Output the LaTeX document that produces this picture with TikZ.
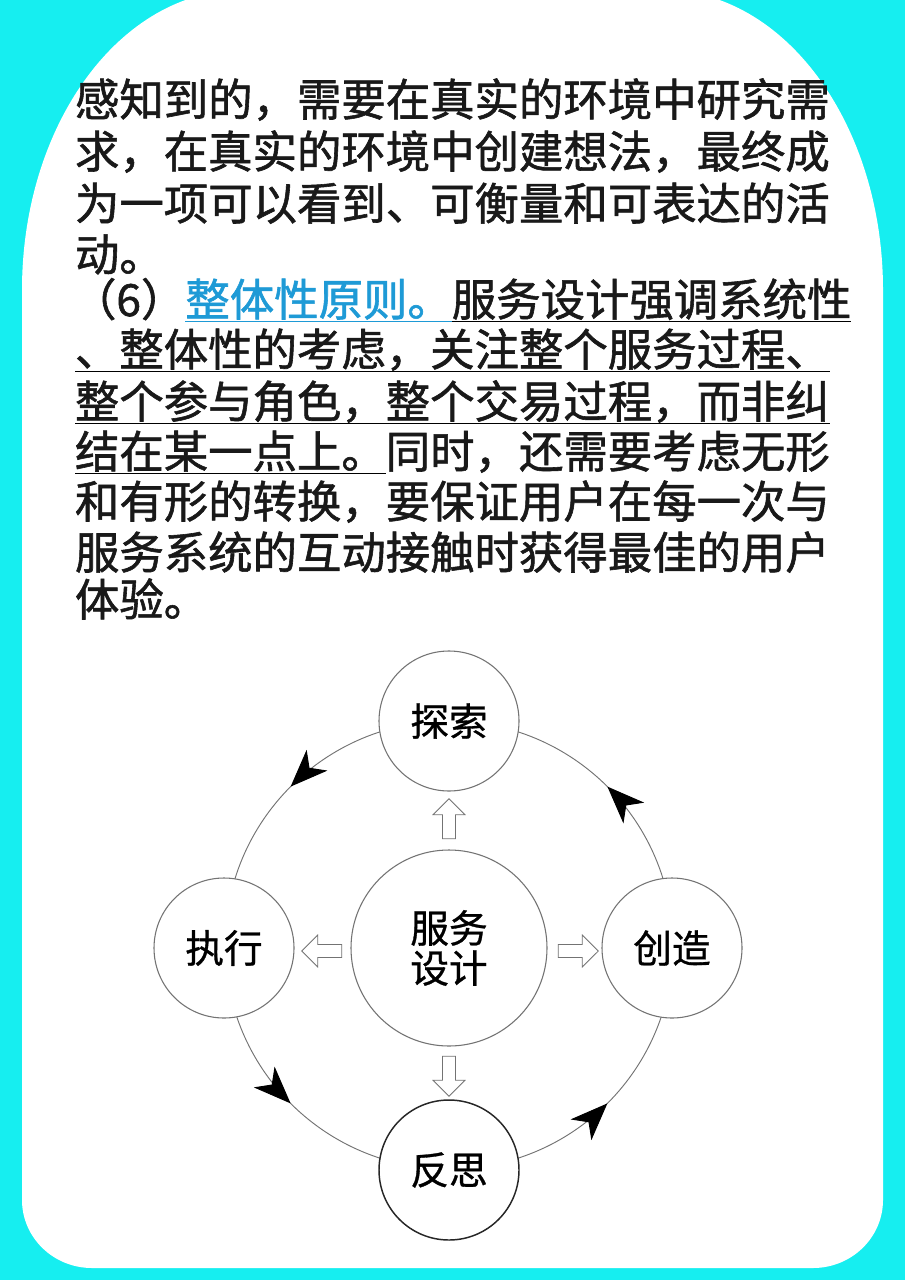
\documentclass[tikz,border=0pt]{standalone}
\usepackage{fontspec}
\setmainfont{Noto Sans CJK SC}
\newfontfamily\cjk[FakeBold=1.3]{Noto Sans CJK SC}
\newfontfamily\cjkd[FakeBold=0.8]{Noto Sans CJK SC}
\usetikzlibrary{arrows.meta,decorations.markings,shapes.arrows}
\definecolor{bgcyan}{RGB}{22,238,240}
\definecolor{linkblue}{RGB}{30,154,214}
\tikzset{
  txt/.style={inner sep=0pt,outer sep=0pt,font=\cjk\fontsize{33.3}{36}\selectfont,text=black!90},
  sat/.style={circle,draw=black!55,line width=0.8pt,fill=white,minimum size=105pt,font=\cjkd\fontsize{29}{34}\selectfont},
  blk/.style={single arrow,draw=black!55,fill=white,line width=0.6pt,minimum height=30pt,minimum width=24pt,single arrow head extend=4pt,inner sep=2.5pt},
  ul/.style={line width=1.2pt}
}
\begin{document}
\begin{tikzpicture}[x=0.75pt,y=-0.75pt]
\useasboundingbox (0,0) rectangle (905,1280);
\fill[bgcyan] (0,0) rectangle (905,1280);
\fill[white] (22,1200) -- (22,290) arc[start angle=180,end angle=270,x radius=220,y radius=300]
  -- (663,-10) arc[start angle=270,end angle=360,x radius=220,y radius=300] -- (883,1200)
  arc[start angle=0,end angle=90,x radius=70,y radius=68] -- (92,1268)
  arc[start angle=90,end angle=180,x radius=70,y radius=68] -- cycle;
% text
\node[txt,anchor=base west] (l1) at (75,116) {感知到的，需要在真实的环境中研究需};
\node[txt,anchor=base west] (l2) at (75,168) {求，在真实的环境中创建想法，最终成};
\node[txt,anchor=base west] (l3) at (75,220) {为一项可以看到、可衡量和可表达的活};
\node[txt,anchor=base west] (l4) at (75,271) {动。};
\node[txt,anchor=base west] (l5a) at (72,316) {（6）};
\node[txt,anchor=base west,text=linkblue] (l5b) at (l5a.base east) {整体性原则。};
\node[txt,anchor=base west] (l5c) at (l5b.base east) {服务设计强调系统性};
\node[txt,anchor=base west] (l6) at (75,366) {、整体性的考虑，关注整个服务过程、};
\node[txt,anchor=base west] (l7) at (75,418) {整个参与角色，整个交易过程，而非纠};
\node[txt,anchor=base west] (l8a) at (75,468) {结在某一点上。};
\node[txt,anchor=base west] (l8b) at (l8a.base east) {同时，还需要考虑无形};
\node[txt,anchor=base west] (l9) at (75,518) {和有形的转换，要保证用户在每一次与};
\node[txt,anchor=base west] (l10) at (75,569) {服务系统的互动接触时获得最佳的用户};
\node[txt,anchor=base west] (l11) at (75,616) {体验。};
\draw[ul,linkblue] ([yshift=-4pt]l5b.base west) -- ([yshift=-4pt]l5b.base east);
\draw[ul] ([yshift=-4pt]l5c.base west) -- ([yshift=-4pt]l5c.base east);
\draw[ul] ([yshift=-4pt]l6.base west) -- ([yshift=-4pt]l6.base east);
\draw[ul] ([yshift=-4pt]l7.base west) -- ([yshift=-4pt]l7.base east);
\draw[ul] ([yshift=-4pt]l8a.base west) -- ([yshift=-4pt]l8a.base east);
% cycle
\coordinate (c) at (449,945);
\draw[black!55,line width=0.7pt,postaction={decorate},decoration={markings,
  mark=at position 0.125 with {\arrow[black]{Stealth[length=28pt,width=22pt,inset=8pt]}},
  mark=at position 0.375 with {\arrow[black]{Stealth[length=28pt,width=22pt,inset=8pt]}},
  mark=at position 0.625 with {\arrow[black]{Stealth[length=28pt,width=22pt,inset=8pt]}},
  mark=at position 0.875 with {\arrow[black]{Stealth[length=28pt,width=22pt,inset=8pt]}}}]
  (c) ++(0:224) arc[start angle=360,end angle=0,radius=224];
\node[sat] (ts) at (449,721) {探索};
\node[sat] (zx) at (224,948) {执行};
\node[sat] (cz) at (672,948) {创造};
\node[sat,draw=black!85,line width=1.1pt] (fs) at (449,1170) {反思};
\node[sat,minimum size=147pt,align=center] (fw) at (449,948) {服务\\[-4pt]设计};
\node[blk,rotate=90] (au) at (449,822) {};
\node[blk,rotate=180] (al) at (325,951) {};
\node[blk] (ar) at (575,951) {};
\node[blk,rotate=-90] (ad) at (449,1073) {};
\end{tikzpicture}
\end{document}
